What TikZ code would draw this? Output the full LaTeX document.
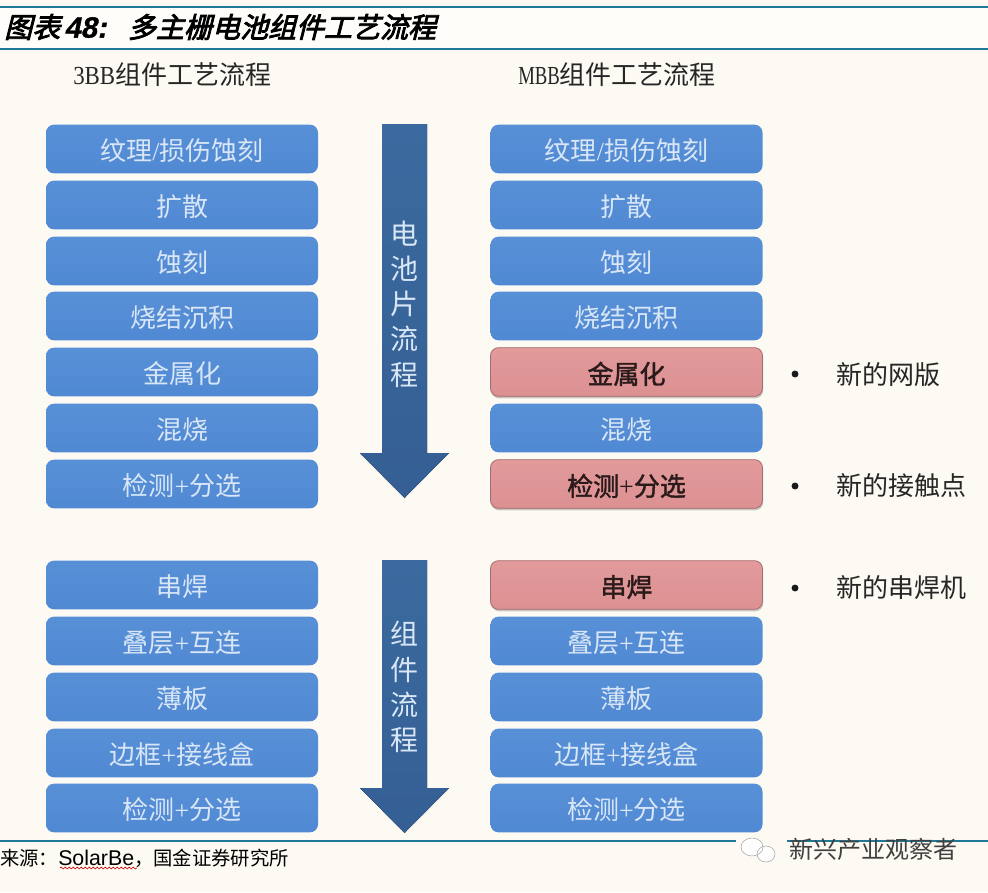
\documentclass[tikz,border=0pt]{standalone}
\usepackage{fontspec}
\setmainfont{Liberation Serif}
\newfontfamily\cjk{Noto Sans CJK SC}
\newfontfamily\cjkbold[FakeBold=1.6]{Noto Sans CJK SC}
\newfontfamily\cjkslant[FakeSlant=0.25,FakeBold=3]{Noto Sans CJK SC}
\newfontfamily\latslant[FakeSlant=0.2,FakeBold=1]{Liberation Sans}
\newfontfamily\latsans{Liberation Sans}
\usetikzlibrary{shadows,decorations.pathmorphing}
\definecolor{bgc}{HTML}{FDFAF3}
\definecolor{blueA}{HTML}{5890D7}
\definecolor{blueB}{HTML}{5089D3}
\definecolor{redA}{HTML}{E29A9B}
\definecolor{redB}{HTML}{DC9092}
\definecolor{arrowA}{HTML}{3A6A9F}
\definecolor{arrowB}{HTML}{355F94}
\definecolor{rulec}{HTML}{1E7896}
\definecolor{bluetxt}{HTML}{D8E6F6}
\definecolor{darktxt}{HTML}{2A1A1A}
\tikzset{
  x=0.75pt,y=-0.75pt,
  boxbase/.style={minimum width=204pt,minimum height=36.5pt,rounded corners=6pt,inner sep=0pt,anchor=center,
     text height=18pt,text depth=0.2pt,
     font=\fontsize{19.5}{22}\selectfont\cjk},
  bluebox/.style={boxbase,top color=blueA,bottom color=blueB,text=bluetxt},
  redbox/.style={boxbase,top color=redA,bottom color=redB,draw=redB!75!black,line width=0.6pt,text=darktxt,
     font=\fontsize{19.5}{22}\selectfont\cjkbold,
     drop shadow={shadow xshift=0.5pt,shadow yshift=-1.5pt,opacity=0.35,fill=black!60}},
  flowarrow/.style={top color=arrowA,bottom color=arrowB,draw=none},
  arrowlabel/.style={text=bluetxt,align=center,inner sep=0pt,font=\fontsize{21}{26.4}\selectfont\cjk},
  headlabel/.style={text=black!85,inner sep=0pt,anchor=west,font=\fontsize{19.5}{22}\selectfont\cjk},
  notelabel/.style={text=black!85,inner sep=0pt,anchor=west,font=\fontsize{19.5}{22}\selectfont\cjk},
  bulletdot/.style={circle,fill=black!90,minimum size=5.2pt,inner sep=0pt},
  rulel/.style={draw=rulec,line width=1.1pt},
}
\begin{document}
\begin{tikzpicture}
\useasboundingbox (0,0) rectangle (988,892);
\fill[bgc] (0,0) rectangle (988,892);
\fill[white!60!bgc] (0,8) rectangle (988,48);
% rules
\coordinate (t1l) at (0,7); \coordinate (t1r) at (988,7);
\coordinate (t2l) at (0,49); \coordinate (t2r) at (988,49);
\coordinate (b1l) at (0,841); \coordinate (b1r) at (988,841);
\draw[rulel] (t1l) -- (t1r);
\draw[rulel] (t2l) -- (t2r);
\draw[rulel] (b1l) -- (b1r);
% title
\node[anchor=west,inner sep=0pt] (title) at (4,27) {\fontsize{21}{24}\selectfont\cjkslant 图表\hspace{3pt}{\latslant\bfseries\fontsize{22}{24}\selectfont 48:}\hspace{16pt}多主栅电池组件工艺流程};
% headers
\node[headlabel] (h1) at (73,75) {\scalebox{0.88}[1]{\rmfamily 3BB}组件工艺流程};
\node[headlabel] (h2) at (518,75) {\scalebox{0.72}[1]{\rmfamily MBB}组件工艺流程};
% left column
\foreach \n/\y/\t in {a1/149/纹理{\rmfamily/}损伤蚀刻,a2/205/扩散,a3/261/蚀刻,a4/316/烧结沉积,a5/372/金属化,a6/428/混烧,a7/484/检测{\rmfamily+}分选,
   a8/585/串焊,a9/641/叠层{\rmfamily+}互连,a10/697/薄板,a11/753/边框{\rmfamily+}接线盒,a12/808/检测{\rmfamily+}分选}
  \node[bluebox] (\n) at (182,\y) {\t};
% right column
\foreach \n/\y/\t in {b1/149/纹理{\rmfamily/}损伤蚀刻,b2/205/扩散,b3/261/蚀刻,b4/316/烧结沉积,b6/428/混烧,
   b9/641/叠层{\rmfamily+}互连,b10/697/薄板,b11/753/边框{\rmfamily+}接线盒,b12/808/检测{\rmfamily+}分选}
  \node[bluebox] (\n) at (626.5,\y) {\t};
\foreach \n/\y/\t in {b5/372/金属化,b7/484/检测{\rmfamily+}分选,b8/585/串焊}
  \node[redbox] (\n) at (626.5,\y) {\t};
% arrows
\fill[flowarrow] (382,124) -- (427,124) -- (427,453) -- (449,453) -- (404.5,498) -- (360,453) -- (382,453) -- cycle;
\fill[flowarrow] (382,560) -- (427,560) -- (427,788) -- (449,788) -- (404.5,833) -- (360,788) -- (382,788) -- cycle;
\node[arrowlabel] (l1) at (404.5,304) {电\\池\\片\\流\\程};
\node[arrowlabel] (l2) at (404.5,687) {组\\件\\流\\程};
% notes
\node[bulletdot] (d1) at (795,374) {};
\node[bulletdot] (d2) at (795,486) {};
\node[bulletdot] (d3) at (795,588) {};
\node[notelabel] (n1) at (836,375) {新的网版};
\node[notelabel] (n2) at (836,486) {新的接触点};
\node[notelabel] (n3) at (836,588) {新的串焊机};
% source
\node[anchor=west,inner sep=0pt,text=black] (src) at (0,858) {\fontsize{14.5}{16}\selectfont\cjk 来源：{\latsans\fontsize{16}{16}\selectfont SolarBe}，国金证券研究所};
\draw[red!80!black,line width=0.5pt,decorate,decoration={snake,amplitude=0.7pt,segment length=3pt}] (60,868) -- (137,868);
% watermark
\fill[bgc] (736,838) rectangle (787,844);
\fill[white,opacity=0.95] (752,847) ellipse (11 and 9);
\fill[white,opacity=0.95] (766,854) ellipse (9 and 8);
\draw[black!35,line width=0.4pt] (752,847) ellipse (11 and 9);
\draw[black!35,line width=0.4pt] (766,854) ellipse (9 and 8);
\node[anchor=west,inner sep=0pt,text=black!75] (wm) at (789,849) {\fontsize{18}{20}\selectfont\cjk 新兴产业观察者};
\end{tikzpicture}
\end{document}
